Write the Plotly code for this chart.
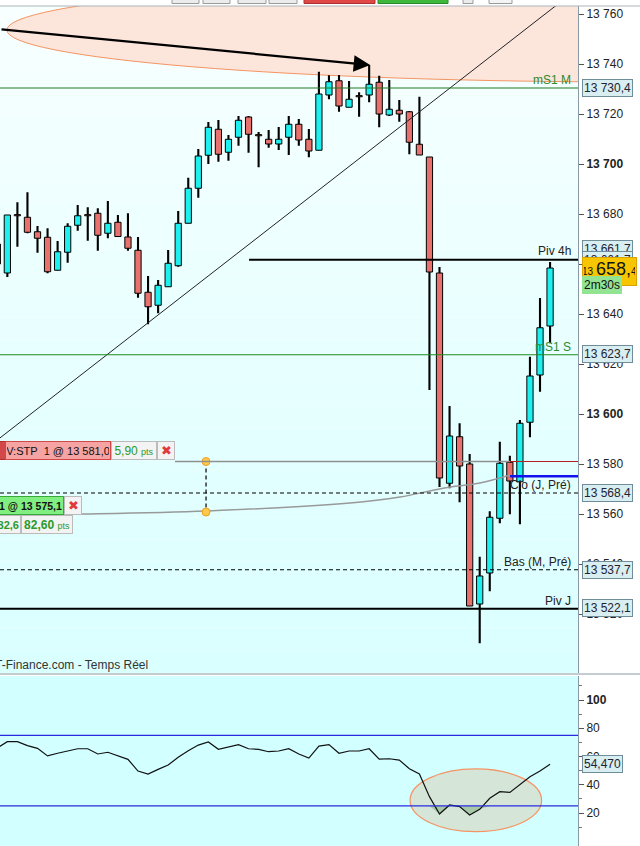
import plotly.graph_objects as go

# ---- price candles (index, open, high, low, close) ----
idx = list(range(56))
opens = [13668, 13656.4, 13679.3, 13678.7, 13672.9, 13670.7, 13657.5, 13664.7, 13675.5, 13679.3,
         13680.3, 13672.3, 13676.7, 13670.8, 13665.5, 13648.7, 13643.5, 13650.9, 13659.3, 13676.3,
         13690.3, 13703.5, 13713.9, 13704.7, 13710.7, 13718.8, 13711.3, 13709.9, 13708.0, 13710.7,
         13715.9, 13709.9, 13705.5, 13727.6, 13733.3, 13722.7, 13726.9, 13727.6, 13732.7, 13719.6,
         13721.5, 13720.9, 13707.9, 13702.8, 13656.4, 13572.3, 13590.9, 13580.0, 13524.0, 13536.4,
         13558.3, 13580.7, 13572.9, 13596.7, 13615.6, 13635.2]
highs = [13669.2, 13679.6, 13684.7, 13688.7, 13675.2, 13674.3, 13669.2, 13676.3, 13683.6, 13682.7,
         13682.3, 13685.2, 13679.6, 13680.3, 13670.8, 13655.2, 13653.6, 13665.6, 13681.2, 13694.5,
         13706.0, 13716.8, 13717.6, 13711.6, 13719.2, 13719.2, 13712.8, 13713.6, 13714.8, 13719.2,
         13718.0, 13714.0, 13736.9, 13735.5, 13735.6, 13733.2, 13728.7, 13739.6, 13735.3, 13733.6,
         13725.6, 13721.2, 13726.9, 13702.8, 13658.8, 13603.2, 13596.3, 13584.0, 13542.9, 13561.1,
         13588.9, 13583.3, 13597.6, 13622.9, 13646.4, 13660.8]
lows = [13656.4, 13654.8, 13666.9, 13672.3, 13664.5, 13656.3, 13657.5, 13660.5, 13673.3, 13669.3,
        13665.3, 13670.3, 13670.9, 13665.3, 13646.5, 13635.9, 13640.3, 13650.9, 13658.9, 13676.3,
        13686.5, 13700.0, 13700.9, 13701.3, 13707.3, 13704.5, 13698.7, 13706.5, 13705.6, 13703.6,
        13707.3, 13702.7, 13705.5, 13725.9, 13720.9, 13722.7, 13718.9, 13724.7, 13714.7, 13719.2,
        13716.9, 13703.9, 13703.6, 13609.6, 13570.8, 13570.3, 13564.7, 13523.2, 13508.3, 13529.1,
        13556.3, 13559.9, 13555.9, 13590.7, 13608.9, 13628.3]
closes = [13660, 13679.6, 13679.3, 13672.7, 13670.3, 13656.9, 13664.9, 13675.1, 13679.3, 13679.3,
          13671.5, 13676.3, 13671.0, 13666.3, 13648.3, 13642.9, 13651.5, 13660.3, 13676.3, 13690.3,
          13703.2, 13714.7, 13703.9, 13709.9, 13717.5, 13711.9, 13711.3, 13708.0, 13709.9, 13715.9,
          13709.6, 13705.2, 13728.0, 13732.9, 13723.2, 13725.9, 13726.9, 13731.9, 13720.0, 13721.9,
          13720.0, 13708.7, 13703.6, 13656.8, 13574.4, 13591.2, 13579.2, 13523.2, 13535.2, 13558.7,
          13580.3, 13573.2, 13596.3, 13615.2, 13634.5, 13658.4]

# ---- oscillator (lower panel) ----
osc = [66.0, 70.5, 70.5, 67.7, 65.8, 60.4, 62.3, 64.1, 65.5, 65.5,
       61.8, 63.0, 60.4, 58.0, 49.7, 47.6, 50.9, 54.0, 59.4, 64.1,
       68.1, 70.3, 65.1, 66.5, 68.4, 65.5, 65.1, 63.4, 63.9, 65.5,
       61.8, 58.9, 67.4, 68.4, 62.3, 63.9, 63.9, 65.5, 58.2, 58.4,
       57.5, 51.4, 47.6, 31.6, 19.3, 25.7, 24.5, 18.6, 22.6, 30.4,
       35.1, 34.6, 40.3, 45.7, 49.7, 54.47]
osc_low, osc_high = 25, 75

# ---- levels ----
ms1_m = 13730.4
ms1_s = 13623.7
piv_4h = 13661.7
piv_j = 13522.1
clo_j = 13568.4
bas_m = 13537.7
stop_price = 13581.0
buy_price = 13575.1
last_price = 13658.4

# drawings (index, price)
trend_x = [0.0, 58.0]
trend_y = [13589.6, 13770.9]
curve_x = [0.27, 8.53, 20.87, 35.09, 40.07, 43.05, 45.05, 48.03, 51.02]
curve_y = [13559.6, 13560.0, 13561.2, 13564.4, 13566.8, 13569.2, 13570.8, 13572.4, 13575.6]
link_x = [20.77, 20.77]
link_y = [stop_price, 13560.8]

XR = [0.2687, 57.78]
W, H = 640, 846
PLOT_R = 578


def PX(x):
    return x / PLOT_R


def PY(y):
    return (H - y) / (H - 6)


fig = go.Figure()

# wicks (bars so they sit under the bodies)
fig.add_trace(go.Bar(x=idx, y=[h - l for h, l in zip(highs, lows)], base=lows, width=0.21,
                     marker=dict(color="black", line=dict(width=0)),
                     xaxis="x", yaxis="y", hoverinfo="skip"))

# bodies
body_base = [min(o, c) for o, c in zip(opens, closes)]
body_len = [max(abs(c - o), 0.45) for o, c in zip(opens, closes)]
body_col = ["#1EF0F0" if c > o else "#E8716D" for o, c in zip(opens, closes)]
fig.add_trace(go.Bar(x=idx, y=body_len, base=body_base, width=0.62,
                     marker=dict(color=body_col, line=dict(color="black", width=1)),
                     xaxis="x", yaxis="y", hoverinfo="skip"))

fig.add_trace(go.Scatter(x=trend_x, y=trend_y, mode="lines", line=dict(color="#222", width=1),
                         xaxis="x", yaxis="y", hoverinfo="skip"))
fig.add_trace(go.Scatter(x=curve_x, y=curve_y, mode="lines", line=dict(color="#999", width=1.5, shape="spline"),
                         xaxis="x", yaxis="y", hoverinfo="skip"))
fig.add_trace(go.Scatter(x=link_x, y=link_y, mode="lines+markers",
                         line=dict(color="black", width=1.2, dash="4px,3px"),
                         marker=dict(size=8, color="#FFC94A", line=dict(color="#F0A020", width=1)),
                         xaxis="x", yaxis="y", hoverinfo="skip"))

# oscillator
fig.add_trace(go.Scatter(x=idx, y=[osc_low] * len(idx), mode="lines", line=dict(width=0),
                         xaxis="x2", yaxis="y2", hoverinfo="skip"))
fig.add_trace(go.Scatter(x=idx, y=[min(v, osc_low) for v in osc], mode="lines", line=dict(width=0),
                         fill="tonexty", fillcolor="rgba(150,190,150,0.75)",
                         xaxis="x2", yaxis="y2", hoverinfo="skip"))
fig.add_trace(go.Scatter(x=idx, y=osc, mode="lines", line=dict(color="#111", width=1.2),
                         xaxis="x2", yaxis="y2", hoverinfo="skip"))

shapes = []
# background gradient of the price panel
n = 30
top_px, bot_px = 6, 673
for b in range(n):
    y0 = top_px + (bot_px - top_px) * b / n
    y1 = top_px + (bot_px - top_px) * (b + 1) / n
    t = b / (n - 1)
    g = int(247 - 29 * t)
    shapes.append(dict(type="rect", xref="paper", yref="paper", x0=0, x1=1, y0=PY(y1), y1=PY(y0),
                       fillcolor=f"rgb({g},255,255)", line=dict(width=0), layer="below"))
shapes.append(dict(type="rect", xref="paper", yref="paper", x0=0, x1=1, y0=0, y1=PY(676),
                   fillcolor="#D2FFFF", line=dict(width=0), layer="below"))
# ellipses
shapes.append(dict(type="circle", xref="x", yref="y", x0=0.95, x1=126.9, y0=13732.8, y1=13774.4,
                   fillcolor="#FCE5DA", line=dict(color="#F59463", width=1), layer="below"))
shapes.append(dict(type="circle", xref="x2", yref="y2", x0=41.07, x1=54.16, y0=6.8, y1=51.2,
                   fillcolor="#D5E6D9", line=dict(color="#F59463", width=1.2), layer="below"))


def hline(y, color, width=1, dash="solid", x0=None, x1=None, xr="x", yr="y"):
    d = dict(type="line", yref=yr, y0=y, y1=y, line=dict(color=color, width=width, dash=dash))
    if x0 is None:
        d.update(xref="paper", x0=0, x1=1)
    else:
        d.update(xref=xr, x0=x0, x1=x1)
    shapes.append(d)


hline(ms1_m, "#1E7A1E")
hline(ms1_s, "#1E8A1E")
hline(piv_4h, "black", 2, x0=25.05, x1=XR[1])
hline(piv_j, "black", 2)
hline(clo_j, "black", 1.2, "4px,3px")
hline(bas_m, "black", 1.2, "4px,3px")
hline(stop_price, "#909090", 1.5, x0=17.68, x1=51.02)
hline(stop_price, "#B02020", 1.2, x0=51.02, x1=XR[1])
hline(buy_price, "#1010F0", 2.5, x0=51.02, x1=XR[1])
hline(osc_high, "#2A2AE0", 1.3, yr="y2")
hline(osc_low, "#2A2AE0", 1.3, yr="y2")

# panel borders
shapes.append(dict(type="line", xref="paper", yref="paper", x0=0, x1=W / PLOT_R, y0=PY(674), y1=PY(674),
                   line=dict(color="#8A9AA5", width=1)))
shapes.append(dict(type="line", xref="paper", yref="paper", x0=0, x1=W / PLOT_R, y0=PY(6), y1=PY(6),
                   line=dict(color="#A8B4BA", width=1)))
# toolbar buttons peeking at the top
for x0, x1, fc, lc in [(172, 199, "#ECECEC", "#9A9A9A"), (203, 230, "#ECECEC", "#9A9A9A"),
                       (238, 266, "#ECECEC", "#9A9A9A"), (269, 297, "#ECECEC", "#9A9A9A"),
                       (304, 375, "#E04848", "#B03030"), (378, 448, "#3DB83D", "#2A8A2A"),
                       (463, 473, "#ECECEC", "#9A9A9A"), (489, 512, "#F4F4F4", "#9A9A9A")]:
    shapes.append(dict(type="rect", xref="paper", yref="paper", x0=PX(x0), x1=PX(x1),
                       y0=PY(3.5), y1=PY(-6), fillcolor=fc, line=dict(color=lc, width=1)))

ann = []
FONT = "Liberation Sans, Arial, sans-serif"


def label(text, xr, yc, color="#222", size=12, anchor="right"):
    ann.append(dict(text=text, xref="paper", yref="paper", x=PX(xr), y=PY(yc), xanchor=anchor,
                    yanchor="middle", showarrow=False, font=dict(family=FONT, size=size, color=color)))


def badge(text, xl, yc, bg="#D9EEF1", bc="#6F8C9A", color="#223", size=12, width=None, anchor="left",
          height=None, align="center", valign="middle"):
    d = dict(text=text, xref="paper", yref="paper", x=PX(xl), y=PY(yc), xanchor=anchor, yanchor="middle",
             showarrow=False, bgcolor=bg, bordercolor=bc, borderwidth=1, borderpad=1, align=align,
             valign=valign, font=dict(family=FONT, size=size, color=color))
    if width:
        d["width"] = width
    if height:
        d["height"] = height
    ann.append(d)


label("mS1 M", 573, 80, "#2E8B2E")
label("mS1 S", 573, 347, "#2E8B2E")
label("Piv 4h", 573, 251)
label("Clo (J, Pré)", 573, 485)
label("Bas (M, Pré)", 573, 562)
label("Piv J", 573, 601)
label("T-Finance.com - Temps Réel", -7, 665, "#333", 12, "left")

badge("13 730,4", 582, 88)
badge("13 661,7", 582, 249.5)
badge("13 661,7", 582, 259.5)
badge("<span style='font-size:10px'>13 </span><span style='font-size:18px'>658,</span>"
      "<span style='font-size:10px'>4</span>", 582, 271.5, bg="#F7C600", bc="#D9A400", color="#111",
      width=51, height=25, valign="top")
badge("2m30s", 582, 285, bg="#92E492", bc="#92E492", color="#111", size=12)
badge("13 623,7", 582, 354)
badge("13 568,4", 582, 493)
badge("13 537,7", 582, 569.5)
badge("13 522,1", 582, 608)
badge("54,470", 582, 764)

# order tickets
GREEN = "#2A9A2A"
badge("", -12, 450.5, bg="#D24848", bc="#B03030", width=14, height=15)
badge("V:STP&nbsp; 1 @ 13 581,0", 5, 450.5, bg="#F5A3A3", bc="#D04848", color="#111", width=102, height=15,
      size=11)
badge(f"<span style='color:{GREEN}'>5,90 </span><span style='color:{GREEN};font-size:9px'>pts</span>",
      111, 450.5, bg="#F3F3F3", bc="#BBBBBB", width=42, height=15)
badge("<span style='color:#E03A3A'>✖</span>", 157, 450.5, bg="#F3F3F3", bc="#BBBBBB", width=14, height=15,
      size=13)
badge("<b>1 @ 13 575,1</b>", 64, 505, bg="#80EE80", bc="#38A838", color="#111", width=110, height=15,
      anchor="right", align="right", size=10.5)
badge("<span style='color:#E03A3A'>✖</span>", 64, 505, bg="#F3F3F3", bc="#BBBBBB", width=14, height=15,
      size=13)
badge(f"<span style='color:{GREEN}'><b>82,6</b></span>", 21, 524, bg="#F3F3F3", bc="#BBBBBB", width=40,
      height=15, anchor="right", align="right", size=11)
badge(f"<span style='color:{GREEN}'><b>82,60</b> </span><span style='color:{GREEN};font-size:9px'>pts</span>",
      21, 524, bg="#F3F3F3", bc="#BBBBBB", width=48, height=15)

# arrow
ann.append(dict(x=37.1, y=13739.6, ax=0.27, ay=13753.9, xref="x", yref="y", axref="x", ayref="y",
                text="", showarrow=True, arrowhead=2, arrowsize=1.5, arrowwidth=2.2, arrowcolor="black"))

price_ticks = list(range(13520, 13761, 20))
price_text = [f"<b>{v // 1000} {v % 1000:03d}</b>" if v % 100 == 0 else f"{v // 1000} {v % 1000:03d}"
              for v in price_ticks]
osc_ticks = [20, 40, 60, 80, 100]
osc_text = ["20", "40", "60", "80", "<b>100</b>"]

axis_font = dict(family=FONT, size=12, color="#222")
fig.update_layout(
    width=W, height=H,
    margin=dict(l=0, r=W - PLOT_R, t=6, b=0, pad=0),
    paper_bgcolor="white", plot_bgcolor="rgba(0,0,0,0)",
    showlegend=False, hovermode=False, barmode="overlay",
    xaxis=dict(range=XR, visible=False, anchor="y"),
    xaxis2=dict(range=XR, visible=False, anchor="y2", matches="x"),
    yaxis=dict(domain=[PY(673), 1], range=[13496.4, 13763.2], side="right", anchor="x",
               tickvals=price_ticks, ticktext=price_text, ticks="outside", ticklen=5, tickcolor="#555",
               showgrid=False, zeroline=False, showline=True, linecolor="#8A9AA5", tickfont=axis_font),
    yaxis2=dict(domain=[0, PY(676)], range=[-3.36, 117.0], side="right", anchor="x2",
                tickvals=osc_ticks, ticktext=osc_text, ticks="outside", ticklen=5, tickcolor="#555",
                minor=dict(tickvals=[10, 30, 50, 70, 90, 110], ticks="outside", ticklen=3, tickcolor="#777"),
                showgrid=False, zeroline=False, showline=True, linecolor="#8A9AA5", tickfont=axis_font),
    shapes=shapes,
    annotations=ann,
)

fig.write_html("out.html", config={"displayModeBar": False},
               post_script="document.body.style.margin='0';")
